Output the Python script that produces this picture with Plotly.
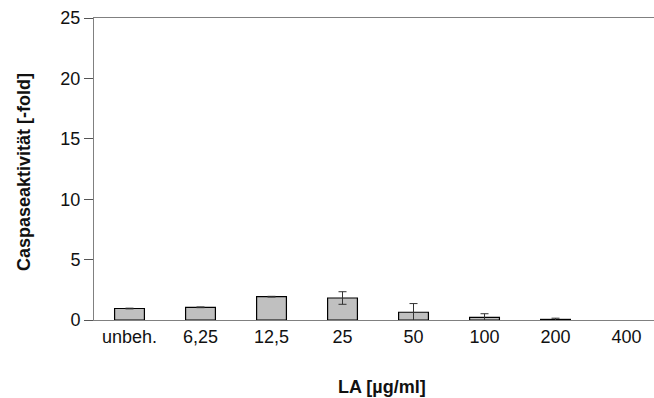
import plotly.graph_objects as go

categories = ["unbeh.", "6,25", "12,5", "25", "50", "100", "200", "400"]
values = [0.95, 1.05, 1.93, 1.82, 0.64, 0.22, 0.05, None]
errors = [0.03, 0.03, 0.03, 0.52, 0.72, 0.30, 0.10, 0]
y_ticks = [0, 5, 10, 15, 20, 25]

FONT = "Liberation Sans, Arial, sans-serif"

fig = go.Figure()
fig.add_trace(go.Bar(
    x=list(range(len(categories))),
    y=values,
    width=0.42,
    marker=dict(color="#c0c0c0", line=dict(color="#000000", width=1.2)),
    error_y=dict(type="data", array=errors, visible=True,
                 color="#333333", thickness=1, width=4),
))

fig.update_layout(
    width=654, height=398,
    margin=dict(l=94, r=0, t=18, b=78),
    paper_bgcolor="white", plot_bgcolor="white",
    showlegend=False,
    font=dict(family=FONT, size=18, color="#111111"),
    xaxis=dict(
        range=[-0.5, 7.387],
        tickmode="array", tickvals=list(range(len(categories))), ticktext=categories,
        showline=True, linecolor="#808080", linewidth=1, mirror=True,
        ticks="", showgrid=False, zeroline=False,
        tickfont=dict(size=18, family=FONT),
    ),
    yaxis=dict(
        range=[0, 25],
        tickmode="array", tickvals=y_ticks,
        showline=True, linecolor="#808080", linewidth=1,
        ticks="outside", ticklen=9, tickcolor="#555555",
        showgrid=False, zeroline=False,
        tickfont=dict(size=18, family=FONT),
    ),
    annotations=[
        dict(text="<b>LA [µg/ml]</b>", xref="paper", yref="paper",
             x=(382 - 94) / 560, y=-(387 - 320) / 302, showarrow=False,
             xanchor="center", yanchor="middle", font=dict(size=18, family=FONT)),
        dict(text="<b>Caspaseaktivität [-fold]</b>", xref="paper", yref="paper",
             x=(24 - 94) / 560, y=(320 - 172) / 302, showarrow=False, textangle=-90,
             xanchor="center", yanchor="middle", font=dict(size=18, family=FONT)),
    ],
)

fig.write_html("out.html")
